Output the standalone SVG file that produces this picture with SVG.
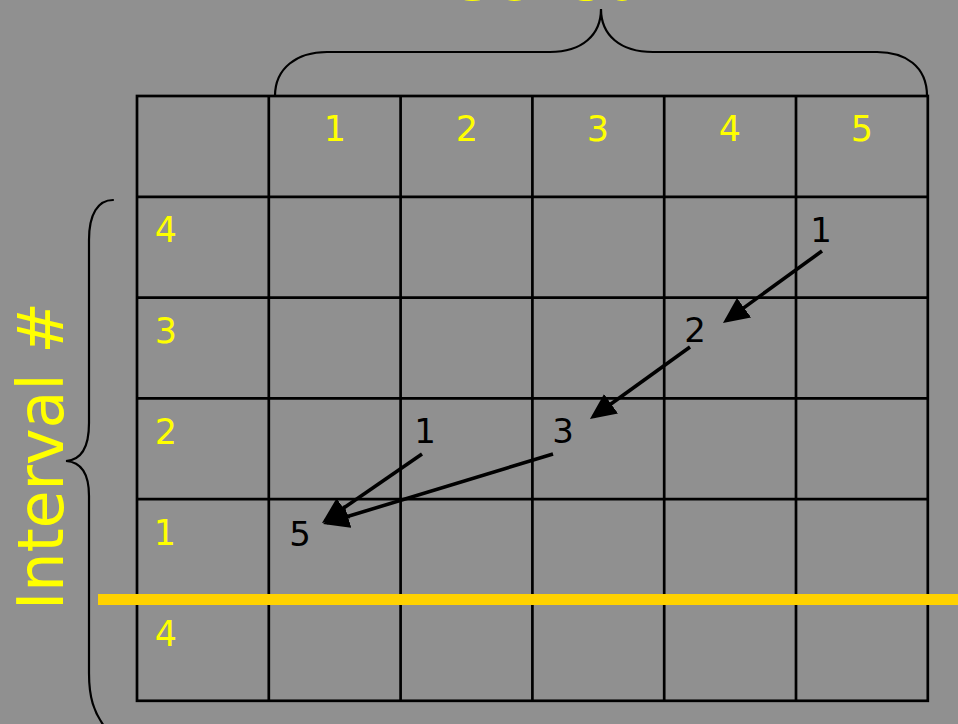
<svg xmlns="http://www.w3.org/2000/svg" width="958" height="724" viewBox="0 0 958 724">
  <style>
    .grid { stroke: #000; stroke-width: 2.7; fill: none; }
    .brace { stroke: #000; stroke-width: 2.2; fill: none; stroke-linecap: round; }
    .ylab { fill: #ffff00; font-family: "DejaVu Sans", "Liberation Sans", sans-serif; font-size: 35px; text-anchor: middle; }
    .blab { fill: #000; font-family: "DejaVu Sans", "Liberation Sans", sans-serif; font-size: 34px; text-anchor: middle; }
    .title { fill: #ffff00; font-family: "DejaVu Sans", "Liberation Sans", sans-serif; font-size: 64px; text-anchor: middle; }
    .arrow { stroke: #000; stroke-width: 3.6; fill: none; marker-end: url(#ah); }
  </style>
  <defs>
    <marker id="ah" markerUnits="userSpaceOnUse" markerWidth="26" markerHeight="24" viewBox="0 0 26 24" refX="22" refY="12" orient="auto">
      <path d="M0,0 L26,12 L0,24 Z" fill="#000"/>
    </marker>
  </defs>
  <rect x="0" y="0" width="958" height="724" fill="#909090"/>

  <g id="sensor-title">
    <text class="title" x="596" y="0" textLength="285" lengthAdjust="spacingAndGlyphs">Sensor #</text>
    <path class="brace" d="M275,96 C275,68 297,52 327,52 L550,52 C582,52 601,35 601,9 C601,35 620,52 653,52 L877,52 C905,52 927,66 927,96"/>
  </g>

  <g id="interval-title">
    <text class="title" transform="translate(63,456) rotate(-90)" x="0" y="0" textLength="308" lengthAdjust="spacingAndGlyphs">Interval #</text>
    <path class="brace" d="M113,200 C98,200 89,214 89,240 L89,423 C89,447 81,460 66,461 C81,462 89,474 89,496 L89,673 C89,698 94,712 104,726"/>
  </g>

  <g id="grid">
    <rect class="grid" x="137" y="96" width="790.8" height="604.8"/>
    <path class="grid" d="M268.8,96 V700.8 M400.6,96 V700.8 M532.4,96 V700.8 M664.2,96 V700.8 M796,96 V700.8 M137,196.8 H927.8 M137,297.6 H927.8 M137,398.4 H927.8 M137,499.2 H927.8 M137,600 H927.8"/>
  </g>

  <g id="column-labels">
    <text class="ylab" x="335" y="141">1</text>
    <text class="ylab" x="467" y="141">2</text>
    <text class="ylab" x="598" y="141">3</text>
    <text class="ylab" x="730" y="141">4</text>
    <text class="ylab" x="862" y="141">5</text>
  </g>

  <g id="row-labels">
    <text class="ylab" x="166" y="242">4</text>
    <text class="ylab" x="166" y="343">3</text>
    <text class="ylab" x="166" y="444">2</text>
    <text class="ylab" x="165" y="545">1</text>
    <text class="ylab" x="166" y="646">4</text>
  </g>

  <g id="yellow-divider">
    <line x1="98" y1="599.5" x2="958" y2="599.5" stroke="#ffd200" stroke-width="11"/>
  </g>

  <g id="cell-s5-i4"><text class="blab" x="821" y="242">1</text></g>
  <g id="cell-s4-i3"><text class="blab" x="695" y="342">2</text></g>
  <g id="cell-s3-i2"><text class="blab" x="563" y="443">3</text></g>
  <g id="cell-s2-i2"><text class="blab" x="425" y="443">1</text></g>
  <g id="cell-s1-i1"><text class="blab" x="300" y="546">5</text></g>

  <g id="connectors">
    <line class="arrow" x1="822" y1="251" x2="726.2" y2="320.6"/>
    <line class="arrow" x1="690" y1="347" x2="593.2" y2="416.7"/>
    <line class="arrow" x1="553" y1="454" x2="326.8" y2="522.8"/>
    <line class="arrow" x1="422" y1="454" x2="325.3" y2="520.7"/>
  </g>
</svg>
